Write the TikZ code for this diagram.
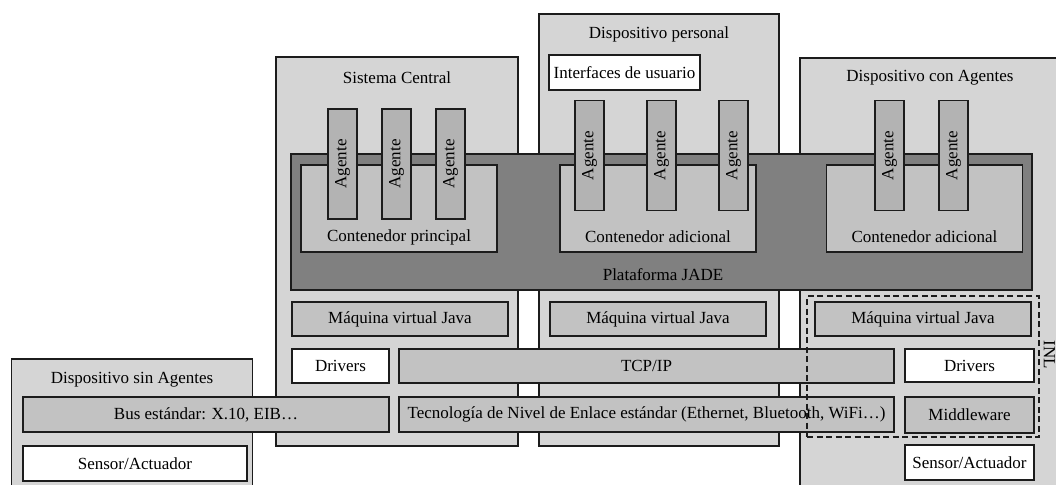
\documentclass[tikz,border=0pt]{standalone}
\usepackage{fontspec}
\setmainfont{Liberation Serif}
\usetikzlibrary{positioning}
\definecolor{devgray}{HTML}{D5D5D5}
\definecolor{jadegray}{HTML}{808080}
\definecolor{contgray}{HTML}{C2C2C2}
\definecolor{agentgray}{HTML}{B3B3B3}
\definecolor{edgegray}{HTML}{1C1C1C}

\begin{document}
\begin{tikzpicture}[x=1pt,y=-1pt,node distance=54pt,line width=1.8pt,
    every node/.style={font=\fontsize{17}{20}\selectfont},
    device/.style={rectangle,draw=edgegray,fill=devgray,inner sep=0pt},
    jade/.style={rectangle,draw=edgegray,fill=jadegray,inner sep=0pt},
    container/.style={rectangle,draw=edgegray,fill=contgray,inner sep=0pt},
    agent/.style={rectangle,draw=edgegray,fill=agentgray,inner sep=0pt,minimum width=29pt,minimum height=110pt},
    layer/.style={rectangle,draw=edgegray,fill=contgray,inner sep=0pt},
    plainbox/.style={rectangle,draw=edgegray,fill=white,inner sep=0pt},
    inlbox/.style={rectangle,draw=edgegray,dash pattern=on 6pt off 3.5pt,inner sep=0pt}]
            \useasboundingbox (0,0) rectangle (1056,484);

            \node[device, minimum width=242pt, minimum height=389pt] (central) at (397,251.5) {};
            \node[device, minimum width=240pt, minimum height=432pt] (personal) at (659,230) {};
            \node[device, minimum width=260pt, minimum height=450pt] (conag) at (930,283) {};
            \node[device, minimum width=241pt, minimum height=150pt] (sinag) at (132,434) {};

            \node[] (tcentral) at (397,78) {Sistema Central};
            \node[] (tpersonal) at (659,34) {Dispositivo personal};
            \node[] (tconag) at (930,78) {Dispositivo con Agentes};
            \node[] (tsinag) at (132,380) {Dispositivo sin Agentes};

            \node[plainbox, minimum width=151pt, minimum height=35pt] (iface) at (624.5,72.5) {Interfaces de usuario};

            \node[jade, minimum width=741pt, minimum height=136pt] (jade) at (661.5,222) {};
            \node[] (tjade) at (663,275) {Plataforma JADE};

            \node[container, minimum width=196pt, minimum height=87pt] (cprin) at (399,208.5) {};
            \node[container, minimum width=196pt, minimum height=87pt] (cadic1) at (658,208.5) {};
            \node[container, minimum width=196pt, minimum height=87pt] (cadic2) at (924.5,208.5) {};
            \node[] (tcprin) at (399,237) {Contenedor principal};
            \node[] (tcadic1) at (658,237) {Contenedor adicional};
            \node[] (tcadic2) at (924.5,237) {Contenedor adicional};

            \node[agent] (ac1) at (342.5,164) {\rotatebox{90}{Agente}};
            \node[agent] (ac2) [right of = ac1] {\rotatebox{90}{Agente}};
            \node[agent] (ac3) [right of = ac2] {\rotatebox{90}{Agente}};

            \node[agent] (ap1) at (589.5,155.5) {\rotatebox{90}{Agente}};
            \node[agent] (ap2) [right of = ap1, xshift = 18pt] {\rotatebox{90}{Agente}};
            \node[agent] (ap3) [right of = ap2, xshift = 18pt] {\rotatebox{90}{Agente}};

            \node[agent] (aa1) at (889.5,155.5) {\rotatebox{90}{Agente}};
            \node[agent] (aa2) [right of = aa1, xshift = 10pt] {\rotatebox{90}{Agente}};

            \node[layer, minimum width=216pt, minimum height=34pt] (jvm1) at (400,319) {Máquina virtual Java};
            \node[layer, minimum width=216pt, minimum height=34pt] (jvm2) at (658,319) {Máquina virtual Java};
            \node[layer, minimum width=216pt, minimum height=34pt] (jvm3) at (923,319) {Máquina virtual Java};

            \node[plainbox, minimum width=97pt, minimum height=34pt] (drv1) at (340.5,366) {Drivers};
            \node[layer, minimum width=495pt, minimum height=34pt] (tcp) at (646.5,366) {TCP/IP};
            \node[plainbox, minimum width=129pt, minimum height=33pt] (drv2) at (969.5,365.5) {Drivers};

            \node[layer, minimum width=366pt, minimum height=35pt] (bus) at (206,414.5) {Bus estándar: X.10, EIB…};
            \node[layer, minimum width=495pt, minimum height=35pt] (link) at (646.5,414.5) {Tecnología de Nivel de Enlace estándar (Ethernet, Bluetooth, WiFi…)};
            \node[layer, minimum width=129pt, minimum height=36pt] (mid) at (969.5,415) {Middleware};

            \node[plainbox, minimum width=224pt, minimum height=35pt] (sen1) at (135,463.5) {Sensor/Actuador};
            \node[plainbox, minimum width=129pt, minimum height=35pt] (sen2) at (969.5,462.5) {Sensor/Actuador};

            \node[inlbox, minimum width=232pt, minimum height=141pt] (inl) at (923,366.5) {};
            \node[rotate=-90, anchor=base] (tinl) at ([xshift=4pt, yshift=12pt]inl.east) {INL};
        \end{tikzpicture}
\end{document}
